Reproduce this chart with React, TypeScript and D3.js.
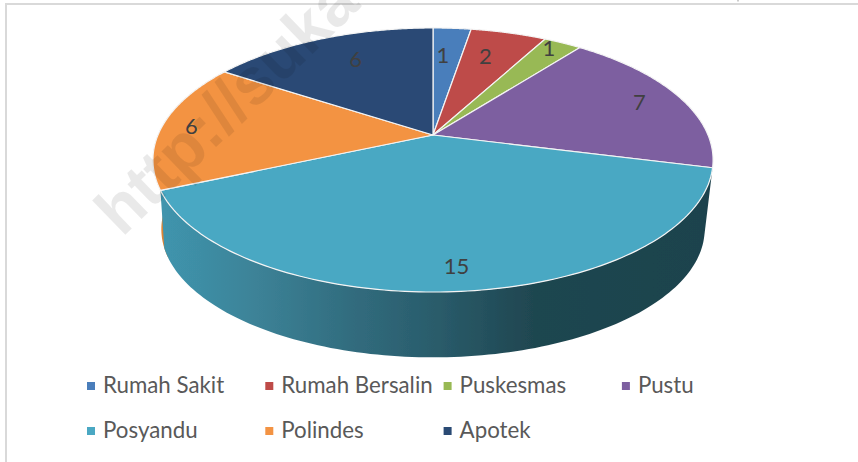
import React from "react";
import * as d3 from "d3";

const categories = ["Rumah Sakit", "Rumah Bersalin", "Puskesmas", "Pustu", "Posyandu", "Polindes", "Apotek"];
const values = [1, 2, 1, 7, 15, 6, 6];
const topColors = ["#4a7ebb", "#be4b48", "#98b954", "#7d5fa0", "#4aa8c3", "#f39343", "#2a4a74"];
const wallColors = ["#3a6391", "#933a38", "#769042", "#61497c", "#3f93ab", "#dd8436", "#203958"];

const W = 858, H = 462;
const CX = 433, CY = 135, RX = 275, RY = 127.3, K = 0.1893;
const WALL_DY = 70, WALL_S = 0.97, CORNER = 0.08;

// Offsets of the data labels from the point at 80% of the radius on each slice's mid-angle
const labelOffsets: [number, number][] = [[-6, 8], [-10, 6], [9, -11], [8, -1.5], [2, 11.5], [-25, 0], [15, 3]];

const project = (theta: number, r: number, s = 1, dy = 0): [number, number] => {
  const u = r * Math.sin(theta), v = -r * Math.cos(theta), d = 1 - K * v;
  return [CX + (s * RX * u) / d, CY + dy + (s * RY * v) / d];
};

const arcPoints = (a0: number, a1: number, s = 1, dy = 0) =>
  d3.range(0, 121).map((i) => project(a0 + ((a1 - a0) * i) / 120, 1, s, dy));

const line = d3.line();
const arcs = d3.pie<number>().sort(null)(values);

export default function App() {
  return (
    <svg width={W} height={H} style={{ position: "absolute", left: 0, top: 0, background: "#fff" }}>
      <defs>
        <linearGradient id="tealWall" gradientUnits="userSpaceOnUse" x1={160} x2={710} y1={0} y2={0}>
          <stop offset="0" stopColor="#3f95ae" />
          <stop offset="0.16" stopColor="#3d8499" />
          <stop offset="0.35" stopColor="#316c7e" />
          <stop offset="0.5" stopColor="#2a5c6b" />
          <stop offset="0.68" stopColor="#1f4650" />
          <stop offset="1" stopColor="#1e434d" />
        </linearGradient>
        <filter id="soft" x="-5%" y="-5%" width="110%" height="110%">
          <feGaussianBlur stdDeviation="0.4" />
        </filter>
      </defs>

      <path d={`M6 ${H}V4H${W}`} fill="none" stroke="#d9d9d9" strokeWidth={2} />
      <line x1={738} x2={738} y1={0} y2={1.5} stroke="#999" />

      <g filter="url(#soft)">
        {arcs.map((a, i) => {
          if (i !== 4 && i !== 5) return null;
          const bottomEnd = i === 4 ? a.endAngle + CORNER : a.endAngle;
          const pts = [...arcPoints(a.startAngle, a.endAngle), ...arcPoints(a.startAngle, bottomEnd, WALL_S, WALL_DY).reverse()];
          return <path key={i} d={line(pts as [number, number][])! + "Z"} fill={i === 4 ? "url(#tealWall)" : wallColors[i]} />;
        }).reverse()}
        {arcs.map((a, i) => {
          const pts = [[CX, CY] as [number, number], ...arcPoints(a.startAngle, a.endAngle)];
          return <path key={i} d={line(pts)! + "Z"} fill={topColors[i]} stroke="#f4f4f4" strokeWidth={1.2} strokeLinejoin="round" />;
        })}
      </g>

      <text
        transform="translate(122,238) rotate(-44)"
        fontFamily="'Liberation Sans', Arial, sans-serif"
        fontWeight={700}
        fontSize={66}
        fill="#000"
        fillOpacity={0.085}
      >
        http://suka
      </text>

      {arcs.map((a, i) => {
        const [x, y] = project((a.startAngle + a.endAngle) / 2, 0.8);
        return (
          <text key={i} x={x + labelOffsets[i][0]} y={y + labelOffsets[i][1]} dy="0.35em" textAnchor="middle"
            fontFamily="Lato, sans-serif" fontSize={22} fill="#404040">
            {values[i]}
          </text>
        );
      })}

      {categories.map((c, i) => {
        const col = i % 4, row = Math.floor(i / 4);
        const x = 87 + col * 178.3, y = 386 + row * 45;
        return (
          <g key={c}>
            <rect x={x} y={y - 4} width={8} height={8} fill={topColors[i]} />
            <text x={x + 16} y={y} dy="0.33em" fontFamily="Lato, sans-serif" fontSize={22.3} fill="#595959">{c}</text>
          </g>
        );
      })}
    </svg>
  );
}
